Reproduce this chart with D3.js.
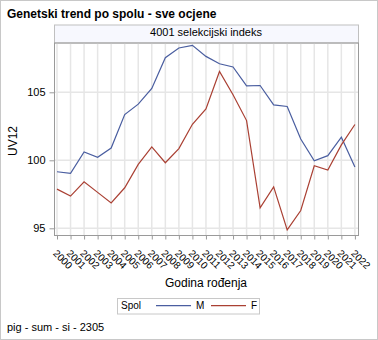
<!DOCTYPE html>
<html><head><meta charset="utf-8">
<script src="https://cdn.jsdelivr.net/npm/d3@7"></script>
<style>body{margin:0;background:#fff}svg{display:block;font-family:"Liberation Sans",Arial,sans-serif}</style>
</head><body>
<script>
const years = [2000,2001,2002,2003,2004,2005,2006,2007,2008,2009,2010,2011,2012,2013,2014,2015,2016,2017,2018,2019,2020,2021,2022];
const valuesM = [99.16,99.04,100.61,100.22,100.9,103.36,104.13,105.28,107.54,108.26,108.45,107.64,107.1,106.86,105.48,105.5,104.08,103.96,101.57,99.97,100.34,101.7,99.5];
const valuesF = [97.88,97.37,98.42,97.64,96.87,97.98,99.7,100.98,99.82,100.86,102.65,103.78,106.53,104.82,102.92,96.5,98.05,94.88,96.31,99.6,99.28,101.13,102.63];
const yTicks = [95,100,105];
const seriesNames = ["M","F"];
const colors = {M:"#4a5ea0",F:"#aa4033"};

const W=378,H=340;
const svg=d3.select("body").append("svg").attr("width",W).attr("height",H);
svg.append("rect").attr("x",0.5).attr("y",0.5).attr("width",W-1).attr("height",H-1).attr("fill","#fff").attr("stroke","#c8c8c8");

const L=54.5,R=358.5,T=43,B=235.5;
const x=d3.scaleLinear().domain([2000,2022]).range([57,354.9]);
const y=d3.scaleLinear().domain([95,100]).range([228.3,160.3]);

svg.append("text").attr("x",7).attr("y",18).attr("font-size",12).attr("font-weight","bold").attr("fill","#000").text("Genetski trend po spolu - sve ocjene");

// header strip
svg.append("rect").attr("x",L).attr("y",25).attr("width",R-L).attr("height",T-25).attr("fill","#f7f8fe").attr("stroke","#c0c0c0");
svg.append("text").attr("x",206).attr("y",35.5).attr("text-anchor","middle").attr("font-size",11).text("4001 selekcijski indeks");

// gridlines
const g=svg.append("g");
g.selectAll(".vg").data(years).join("line").attr("x1",d=>x(d)).attr("x2",d=>x(d)).attr("y1",T).attr("y2",B).attr("stroke","#e6e6e6").attr("stroke-width",1.5);
g.selectAll(".hg").data(yTicks).join("line").attr("x1",L).attr("x2",R).attr("y1",d=>y(d)).attr("y2",d=>y(d)).attr("stroke","#e6e6e6").attr("stroke-width",1.5);

// lines
const line=d3.line().x((d,i)=>x(years[i])).y(d=>y(d));
[["M",valuesM],["F",valuesF]].forEach(([n,v])=>{
  svg.append("path").datum(v).attr("d",line).attr("fill","none").attr("stroke",colors[n]).attr("stroke-width",1.2);
});

// frame
svg.append("rect").attr("x",L).attr("y",T).attr("width",R-L).attr("height",B-T).attr("fill","none").attr("stroke","#9a9a9a");

// axes
const yAxis=d3.axisLeft(y).tickValues(yTicks).tickFormat(d3.format("d")).tickSize(5).tickPadding(4);
const ya=svg.append("g").attr("transform",`translate(${L},0)`).call(yAxis);
ya.select(".domain").remove();
ya.selectAll("line").attr("stroke","#9a9a9a");
ya.selectAll("text").attr("font-size",11).attr("fill","#000").attr("font-family","Liberation Sans, Arial, sans-serif");

const xAxis=d3.axisBottom(x).tickValues(years).tickFormat(d3.format("d")).tickSize(4);
const xa=svg.append("g").attr("transform",`translate(0,${B})`).call(xAxis);
xa.select(".domain").remove();
xa.selectAll("line").attr("stroke","#9a9a9a");
xa.selectAll("text").attr("font-size",10).attr("fill","#000").attr("font-family","Liberation Sans, Arial, sans-serif")
  .attr("text-anchor","start").attr("dy",null).attr("y",0)
  .attr("transform","translate(-5,18.5) rotate(45)");

svg.append("text").attr("transform",`translate(16.8,141) rotate(-90)`).attr("text-anchor","middle").attr("font-size",12).text("UV12");
svg.append("text").attr("x",206).attr("y",287).attr("text-anchor","middle").attr("font-size",12).text("Godina rođenja");

// legend
const lg=svg.append("g");
lg.append("rect").attr("x",117.5).attr("y",298.5).attr("width",142).attr("height",15.5).attr("fill","#fff").attr("stroke","#c8c8c8");
lg.append("text").attr("x",121).attr("y",309).attr("font-size",10).text("Spol");
const legX={M:156,F:211};
seriesNames.forEach(n=>{
  lg.append("line").attr("x1",legX[n]).attr("x2",legX[n]+35).attr("y1",305.7).attr("y2",305.7).attr("stroke",colors[n]).attr("stroke-width",1.2);
  lg.append("text").attr("x",legX[n]+40).attr("y",309).attr("font-size",10).text(n);
});

svg.append("text").attr("x",7).attr("y",331).attr("font-size",11).text("pig - sum - si - 2305");
</script>
</body></html>
